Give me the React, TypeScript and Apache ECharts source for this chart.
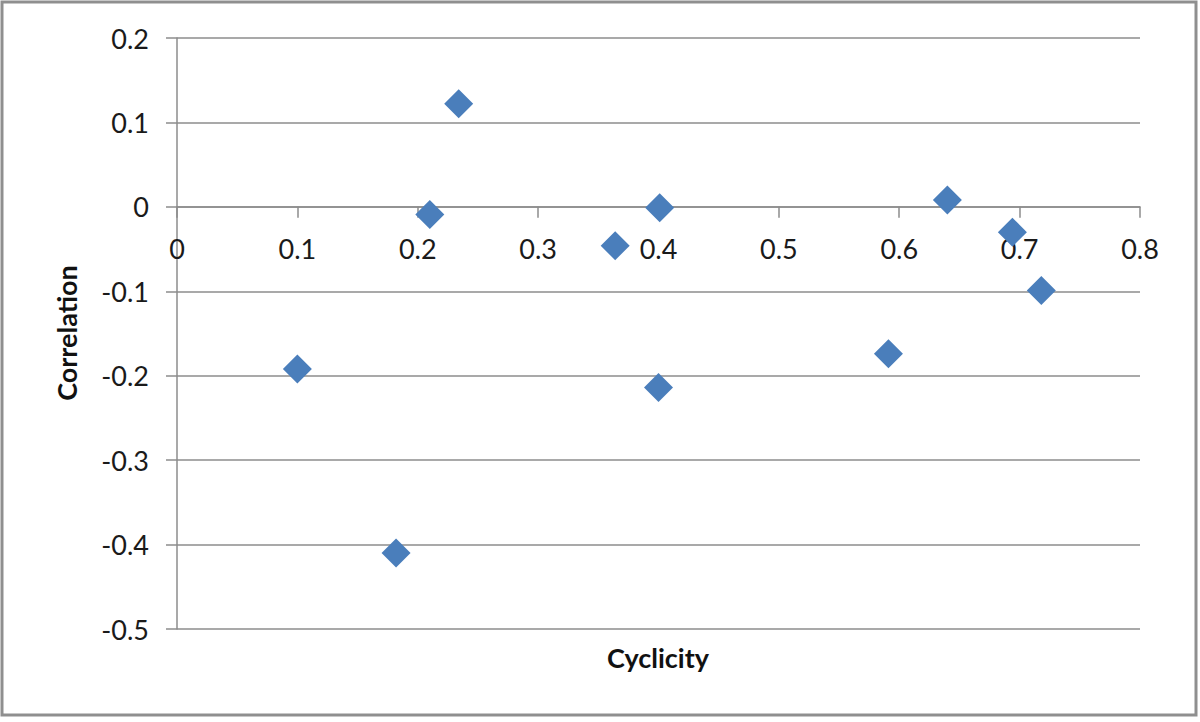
import React, { useEffect, useRef } from "react";
import * as echarts from "echarts";

const cyclicity = [0.1, 0.182, 0.21, 0.234, 0.364, 0.401, 0.4, 0.591, 0.64, 0.694, 0.718];
const correlation = [-0.192, -0.41, -0.009, 0.122, -0.046, -0.001, -0.214, -0.174, 0.008, -0.03, -0.099];
const xAxisTitle = "Cyclicity";
const yAxisTitle = "Correlation";

const FONT = "Lato, 'Open Sans', sans-serif";

export default function App() {
  const ref = useRef<HTMLDivElement>(null);
  useEffect(() => {
    const chart = echarts.init(ref.current!, undefined, { renderer: "svg" });
    const data = cyclicity.map((x, i) => [x, correlation[i]]);
    const fmt = (v: number) => {
      const r = Math.round(v * 10) / 10;
      return r === 0 ? "0" : String(r);
    };
    const gridTop = 38;
    const gridBottomY = 629;
    const yMin = -0.5;
    const yMax = 0.2;
    const zeroY = gridTop + ((yMax - 0) / (yMax - yMin)) * (gridBottomY - gridTop);
    chart.setOption({
      animation: false,
      backgroundColor: "#ffffff",
      grid: { left: 177, right: 60, top: gridTop, bottom: 722 - gridBottomY, containLabel: false },
      xAxis: {
        type: "value",
        position: "bottom",
        offset: -(gridBottomY - zeroY),
        min: 0,
        max: 0.8,
        interval: 0.1,
        axisLine: { show: true, onZero: false, lineStyle: { color: "#8c8c8c", width: 1.5 } },
        axisTick: { show: true, length: 11, lineStyle: { color: "#8c8c8c", width: 1.5 } },
        axisLabel: { formatter: fmt, fontSize: 27, color: "#1a1a1a", fontFamily: FONT, margin: 28 },
        splitLine: { show: false },
      },
      yAxis: {
        type: "value",
        min: yMin,
        max: yMax,
        interval: 0.1,
        axisLine: { show: true, onZero: false, lineStyle: { color: "#8c8c8c", width: 1.5 } },
        axisTick: { show: true, length: 11, lineStyle: { color: "#8c8c8c", width: 1.5 } },
        axisLabel: { formatter: fmt, fontSize: 27, color: "#1a1a1a", fontFamily: FONT, margin: 28 },
        splitLine: { show: true, lineStyle: { color: "#8c8c8c", width: 1.5 } },
      },
      series: [
        {
          type: "scatter",
          data,
          symbol: "diamond",
          symbolSize: [29, 29],
          itemStyle: { color: "#4a7ebb", opacity: 1 },
        },
      ],
      graphic: [
        {
          type: "rect",
          shape: { x: 2, y: 2, width: 1194, height: 713 },
          style: { fill: "none", stroke: "#8f8f8f", lineWidth: 3 },
          silent: true,
        },
        {
          type: "text",
          x: 658,
          y: 657,
          style: {
            text: xAxisTitle,
            font: `bold 27px ${FONT}`,
            fill: "#111111",
            textAlign: "center",
            textVerticalAlign: "middle",
          },
        },
        {
          type: "text",
          x: 66,
          y: 333,
          rotation: Math.PI / 2,
          style: {
            text: yAxisTitle,
            font: `bold 27px ${FONT}`,
            fill: "#111111",
            textAlign: "center",
            textVerticalAlign: "middle",
          },
        },
      ],
    });
    return () => chart.dispose();
  }, []);
  return (
    <div
      ref={ref}
      style={{ position: "fixed", left: 0, top: 0, width: 1200, height: 722 }}
    />
  );
}
